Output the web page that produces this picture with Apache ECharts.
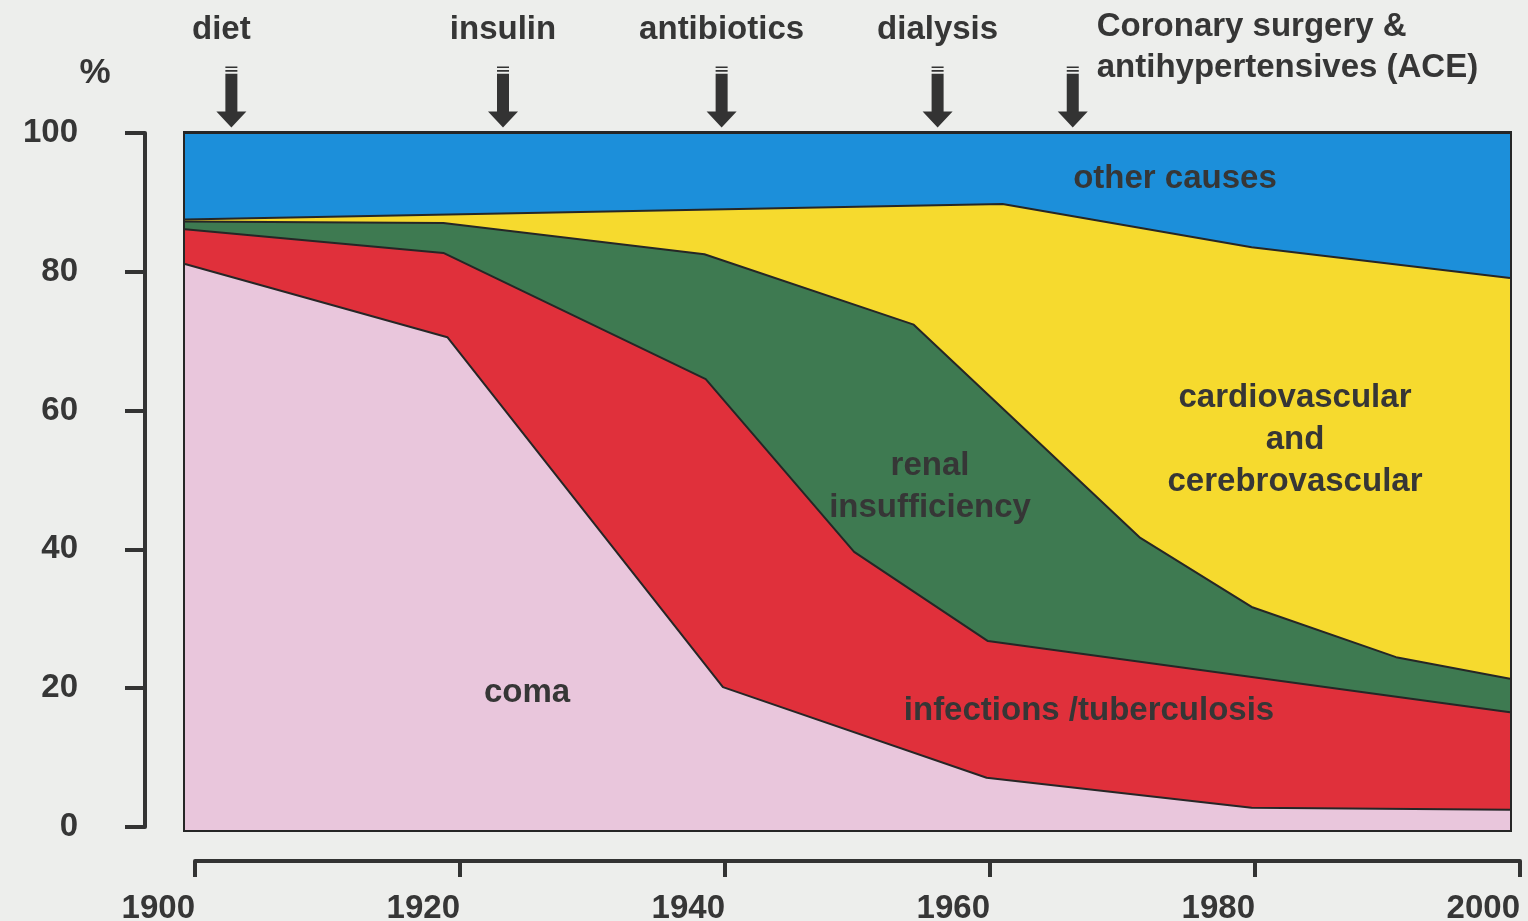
<!DOCTYPE html>
<html>
<head>
<meta charset="utf-8">
<title>Causes of death in diabetes, 1900-2000</title>
<script src="https://cdn.jsdelivr.net/npm/echarts@6/dist/echarts.min.js"></script>
<style>
  html, body { margin: 0; padding: 0; background: #edeeec; }
  #chart { width: 1528px; height: 921px; }
</style>
</head>
<body>
<div id="chart"></div>
<script>
  // upper edge of each band, cumulative % (bands are painted top band first)
  const otherUpper = [[1900, 100], [2000, 100]];
  const cardioUpper = [[1900, 87.6], [1961.7, 89.8], [1980.5, 83.6], [2000, 79.2]];
  const renalUpper = [[1900, 87.3], [1919.5, 87.1], [1939.2, 82.6], [1955, 72.5], [1972.1, 41.9], [1980.5, 32.0], [1991.4, 24.8], [2000, 21.7]];
  const infectUpper = [[1900, 86.2], [1919.5, 82.8], [1939.3, 64.7], [1950.5, 39.9], [1960.6, 27.1], [2000, 16.9]];
  const comaUpper = [[1900, 81.2], [1919.8, 70.7], [1940.6, 20.5], [1960.5, 7.5], [1980.5, 3.2], [2000, 2.9]];

  // therapy milestones (arrows above the plot)
  const milestoneNames = ['diet', 'insulin', 'antibiotics', 'dialysis', 'Coronary surgery &\nantihypertensives (ACE)'];
  const milestoneYears = [1903.5, 1924, 1940.5, 1956.8, 1967];

  const yearTicks = [1900, 1920, 1940, 1960, 1980, 2000];

  const font = '"Liberation Sans", Arial, sans-serif';
  const ink = '#363636';

  const chart = echarts.init(document.getElementById('chart'));

  const band = (name, data, color) => ({
    name: name,
    type: 'line',
    xAxisIndex: 0,
    yAxisIndex: 0,
    data: data,
    symbol: 'none',
    silent: true,
    lineStyle: { color: '#262626', width: 2 },
    itemStyle: { color: color },
    areaStyle: { color: color, opacity: 1 }
  });

  const arrowPath = 'path://M9,0H21V1.6H9Z M9,3.6H21V5.2H9Z M9,7.2H21V45H30L15,61L0,45H9Z';

  const areaLabel = (text, x, y) => ({
    type: 'text', x: x, y: y, z: 100, silent: true,
    style: { text: text, align: 'center', verticalAlign: 'middle', lineHeight: 42, font: 'bold 33px ' + font, fill: ink }
  });

  chart.setOption({
    backgroundColor: '#edeeec',
    animation: false,
    grid: [
      // plot box
      { left: 185, right: 18, top: 133, bottom: 91, show: true, borderColor: '#262626', borderWidth: 4, backgroundColor: 'transparent', outerBoundsMode: 'none' },
      // detached year axis
      { left: 195, right: 8, top: 860, height: 1, outerBoundsMode: 'none' },
      // detached % axis
      { left: 145, width: 1, top: 133, bottom: 94, outerBoundsMode: 'none' }
    ],
    xAxis: [
      { gridIndex: 0, type: 'value', min: 1900, max: 2000, show: false },
      {
        gridIndex: 1, type: 'value', min: 1900, max: 2000, interval: 20,
        axisLine: { show: true, lineStyle: { color: '#333', width: 4 } },
        axisTick: { show: true, length: 16, lineStyle: { color: '#333', width: 4 } },
        splitLine: { show: false },
        axisLabel: {
          align: 'right', margin: 31, fontSize: 33, fontWeight: 'bold', color: ink, fontFamily: font,
          formatter: v => (yearTicks.indexOf(v) >= 0 ? String(v) : '')
        }
      },
      { gridIndex: 2, type: 'value', min: 0, max: 1, show: false }
    ],
    yAxis: [
      { gridIndex: 0, type: 'value', min: 0, max: 100, show: false },
      { gridIndex: 1, type: 'value', min: 0, max: 1, show: false },
      {
        gridIndex: 2, type: 'value', min: 0, max: 100, interval: 20,
        name: '%', nameLocation: 'end', nameGap: 42,
        nameTextStyle: { fontSize: 35, fontWeight: 'bold', color: ink, fontFamily: font, align: 'center', padding: [0, 100, 0, 0] },
        axisLine: { show: true, lineStyle: { color: '#333', width: 4 } },
        axisTick: { show: true, length: 20, lineStyle: { color: '#333', width: 4 } },
        splitLine: { show: false },
        axisLabel: { margin: 67, fontSize: 33, fontWeight: 'bold', color: ink, fontFamily: font, padding: [0, 0, 6, 0] }
      }
    ],
    series: [
      band('other causes', otherUpper, '#1c8fda'),
      band('cardiovascular and cerebrovascular', cardioUpper, '#f6da2e'),
      band('renal insufficiency', renalUpper, '#3e7a51'),
      band('infections /tuberculosis', infectUpper, '#e0303b'),
      band('coma', comaUpper, '#e9c6dc'),
      {
        type: 'scatter',
        xAxisIndex: 0,
        yAxisIndex: 0,
        clip: false,
        silent: true,
        z: 10,
        symbol: arrowPath,
        symbolSize: [30, 61],
        symbolOffset: [0, -36],
        itemStyle: { color: '#333', opacity: 1 },
        label: {
          show: true, position: 'top', distance: 20, formatter: '{b}',
          fontSize: 33, fontWeight: 'bold', color: ink, fontFamily: font
        },
        data: milestoneNames.map((n, i) => {
          const item = { name: n, value: [milestoneYears[i], 100] };
          if (i === 0) {
            item.label = { offset: [-10, 0] };
          }
          if (i === milestoneNames.length - 1) {
            item.label = { position: [39, -60], align: 'left', verticalAlign: 'top', lineHeight: 41 };
          }
          return item;
        })
      }
    ],
    graphic: [
      areaLabel('other causes', 1175, 179),
      areaLabel('cardiovascular\nand\ncerebrovascular', 1295, 440),
      areaLabel('renal\ninsufficiency', 930, 487),
      areaLabel('coma', 527, 693),
      areaLabel('infections /tuberculosis', 1089, 711)
    ]
  });
</script>
</body>
</html>
